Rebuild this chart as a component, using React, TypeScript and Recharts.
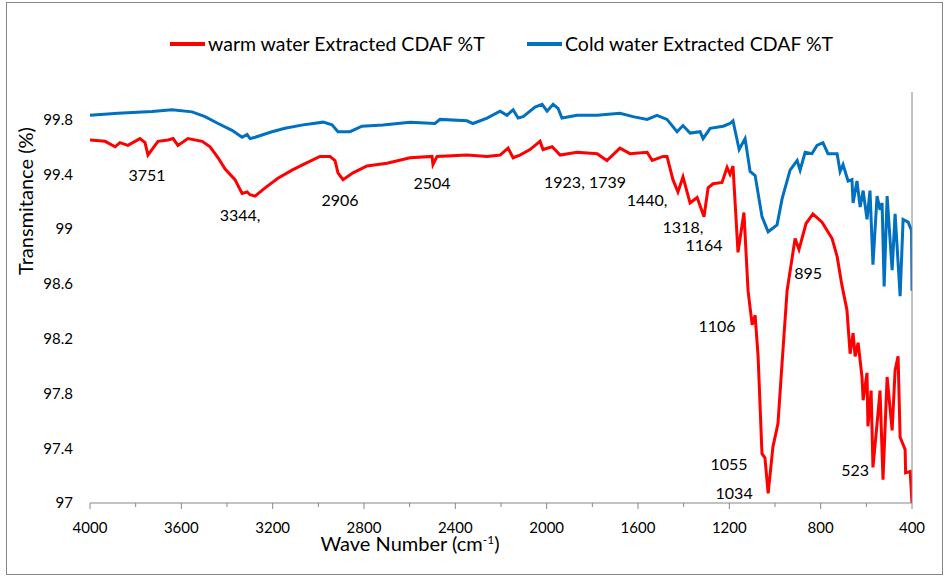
import { LineChart, Line, XAxis, YAxis, Legend, ReferenceDot } from "recharts"

// FTIR spectra, wave number (cm-1) against transmittance (%)
const coldWave = [4000, 3877, 3728, 3641, 3553, 3496, 3439, 3378, 3334, 3312, 3299, 3277, 3203, 3146, 3067, 2979, 2940, 2914, 2861, 2809, 2717, 2598, 2489, 2467, 2349, 2323, 2261, 2204, 2174, 2147, 2125, 2103, 2051, 2020, 1998, 1972, 1950, 1933, 1867, 1779, 1679, 1622, 1560, 1517, 1473, 1429, 1403, 1372, 1328, 1315, 1284, 1227, 1197, 1184, 1157, 1131, 1109, 1087, 1057, 1030, 991, 969, 934, 903, 890, 868, 838, 816, 790, 768, 728, 715, 702, 680, 663, 658, 641, 627, 614, 597, 584, 571, 553, 540, 531, 522, 509, 487, 474, 452, 439, 417, 402, 400]
const coldT = [99.83, 99.845, 99.857, 99.87, 99.855, 99.82, 99.77, 99.72, 99.67, 99.69, 99.66, 99.67, 99.71, 99.735, 99.76, 99.78, 99.76, 99.71, 99.71, 99.75, 99.76, 99.78, 99.77, 99.8, 99.79, 99.77, 99.81, 99.86, 99.83, 99.87, 99.81, 99.82, 99.89, 99.91, 99.86, 99.91, 99.88, 99.81, 99.83, 99.83, 99.845, 99.82, 99.8, 99.83, 99.8, 99.71, 99.755, 99.7, 99.71, 99.66, 99.735, 99.75, 99.77, 99.79, 99.58, 99.66, 99.42, 99.39, 99.09, 98.98, 99.03, 99.22, 99.43, 99.5, 99.43, 99.56, 99.55, 99.61, 99.63, 99.55, 99.55, 99.42, 99.47, 99.35, 99.36, 99.19, 99.35, 99.16, 99.28, 99.07, 99.28, 98.74, 99.24, 99.14, 99.19, 98.58, 99.24, 98.7, 99.11, 98.51, 99.07, 99.05, 98.99, 98.55]

const warmWave = [4000, 3934, 3890, 3869, 3834, 3781, 3759, 3746, 3724, 3702, 3658, 3636, 3615, 3571, 3509, 3474, 3439, 3409, 3365, 3334, 3312, 3299, 3277, 3233, 3177, 3115, 3067, 2993, 2949, 2927, 2914, 2892, 2848, 2787, 2699, 2598, 2502, 2498, 2480, 2349, 2261, 2204, 2169, 2147, 2117, 2073, 2029, 2016, 1976, 1941, 1867, 1779, 1736, 1679, 1635, 1560, 1538, 1490, 1473, 1447, 1425, 1403, 1372, 1341, 1311, 1293, 1271, 1232, 1210, 1197, 1184, 1162, 1136, 1118, 1100, 1087, 1074, 1057, 1044, 1030, 1009, 987, 965, 947, 912, 895, 864, 834, 794, 750, 728, 707, 685, 671, 658, 649, 636, 619, 614, 597, 593, 579, 571, 553, 540, 527, 509, 487, 474, 461, 452, 430, 428, 408, 400]
const warmT = [99.65, 99.64, 99.6, 99.63, 99.61, 99.66, 99.63, 99.54, 99.59, 99.64, 99.65, 99.66, 99.61, 99.66, 99.64, 99.6, 99.52, 99.44, 99.36, 99.26, 99.27, 99.25, 99.24, 99.3, 99.37, 99.43, 99.47, 99.53, 99.53, 99.5, 99.41, 99.36, 99.41, 99.46, 99.48, 99.52, 99.53, 99.47, 99.53, 99.54, 99.53, 99.54, 99.59, 99.52, 99.54, 99.58, 99.64, 99.58, 99.6, 99.54, 99.56, 99.55, 99.5, 99.59, 99.55, 99.56, 99.5, 99.53, 99.53, 99.36, 99.27, 99.38, 99.19, 99.23, 99.09, 99.3, 99.33, 99.34, 99.45, 99.4, 99.46, 98.83, 99.12, 98.55, 98.3, 98.37, 98.07, 97.36, 97.33, 97.07, 97.41, 97.58, 98.12, 98.55, 98.93, 98.85, 99.04, 99.11, 99.05, 98.93, 98.8, 98.59, 98.41, 98.09, 98.24, 98.07, 98.17, 97.92, 97.75, 97.95, 97.56, 97.82, 97.26, 97.58, 97.82, 97.17, 97.92, 97.53, 97.97, 98.07, 97.48, 97.39, 97.22, 97.23, 97.0]

// peak annotations
const peakText = ["3751", "3344,", "2906", "2504", "1923, 1739", "1440,", "1318,", "1164", "895", "1106", "1055", "1034", "523"]
const peakWave = [3750, 3343, 2905, 2502, 1832, 1560, 1403, 1311, 855, 1254, 1201, 1179, 649]
const peakT = [99.39, 99.1, 99.21, 99.33, 99.34, 99.21, 99.01, 98.88, 98.68, 98.29, 97.28, 97.07, 97.24]

const xTicks = [4000, 3800, 3600, 3400, 3200, 3000, 2800, 2600, 2400, 2200, 2000, 1800, 1600, 1400, 1200, 1000, 800, 600, 400]
const yTicks = [97, 97.4, 97.8, 98.2, 98.6, 99, 99.4, 99.8]
const yMinorTicks = [97, 97.2, 97.4, 97.6, 97.8, 98, 98.2, 98.4, 98.6, 98.8, 99, 99.2, 99.4, 99.6, 99.8, 100]

const seriesNames = ["warm water Extracted CDAF %T", "Cold water Extracted CDAF %T"]
const seriesColors = ["#FF0000", "#0070C0"]

const coldData = coldWave.map((w, i) => ({ wave: w, t: coldT[i] }))
const warmData = warmWave.map((w, i) => ({ wave: w, t: warmT[i] }))

const FONT = "Lato, 'Open Sans', sans-serif"
const GREY = "#868686"

function XTick(props: any) {
    const { x, y, payload } = props
    const major = payload.value % 400 === 0
    return (
        <g>
            <line x1={x} x2={x} y1={y} y2={y + (major ? 6 : 4)} stroke={GREY} />
            {major && (
                <text x={x} y={y + 24} textAnchor="middle" dominantBaseline="central" fontSize={15} fontFamily={FONT} fill="#000">
                    {payload.value}
                </text>
            )}
        </g>
    )
}

// legend keeps the series order of the original (warm first)
function LegendBox() {
    const lefts = [170, 527]
    return (
        <div style={{ position: "relative", width: 949, height: 90, fontFamily: FONT }}>
            {seriesNames.map((name, i) => (
                <div key={name}>
                    <div style={{ position: "absolute", left: lefts[i], top: 42, width: 35, height: 4, background: seriesColors[i] }} />
                    <span style={{ position: "absolute", left: lefts[i] + 38, top: 31, fontSize: 19.5, lineHeight: "26px", color: "#000", whiteSpace: "nowrap" }}>
                        {name}
                    </span>
                </div>
            ))}
        </div>
    )
}

export default function App() {
    return (
        <div style={{ position: "absolute", left: 0, top: 0, width: 949, height: 581, background: "#fff" }}>
            <div style={{ position: "absolute", left: 6, top: 2, width: 935, height: 571, border: `1px solid ${GREY}` }} />
            <LineChart width={949} height={581} data={warmData} margin={{ top: 92, right: 27, bottom: 0, left: 0 }}>
                <XAxis
                    dataKey="wave"
                    type="number"
                    domain={[400, 4000]}
                    reversed
                    ticks={xTicks}
                    interval={0}
                    height={78}
                    tickSize={0}
                    tickMargin={0}
                    tickLine={false}
                    stroke={GREY}
                    tick={<XTick />}
                    allowDataOverflow
                    label={() => (
                        <text x={410} y={551} textAnchor="middle" fontSize={20} fontFamily={FONT} fill="#000">
                            Wave Number (cm
                            <tspan dy={-7} fontSize={12}>-1</tspan>
                            <tspan dy={7}>)</tspan>
                        </text>
                    )}
                />
                <YAxis
                    yAxisId="l"
                    type="number"
                    domain={[97, 100]}
                    ticks={yTicks}
                    interval={0}
                    width={90}
                    axisLine={false}
                    tickLine={false}
                    tickSize={0}
                    tickMargin={17}
                    allowDataOverflow
                    tick={{ fontSize: 15, fontFamily: FONT, fill: "#000" }}
                    label={() => (
                        <text x={25} y={201} transform="rotate(-90 25 201)" textAnchor="middle" dominantBaseline="central" fontSize={20} fontFamily={FONT} fill="#000">
                            Transmitance (%)
                        </text>
                    )}
                />
                <YAxis
                    yAxisId="r"
                    orientation="right"
                    type="number"
                    domain={[97, 100]}
                    ticks={yMinorTicks}
                    interval={0}
                    width={10}
                    tickSize={4}
                    tick={false}
                    stroke={GREY}
                    allowDataOverflow
                />
                <Legend verticalAlign="middle" align="center" layout="horizontal" wrapperStyle={{ top: 0, left: 0, width: 949, height: 90 }} content={<LegendBox />} />
                <Line yAxisId="l" data={warmData} dataKey="t" name={seriesNames[0]} stroke={seriesColors[0]} strokeWidth={3} dot={false} isAnimationActive={false} />
                <Line yAxisId="l" data={coldData} dataKey="t" name={seriesNames[1]} stroke={seriesColors[1]} strokeWidth={3} dot={false} isAnimationActive={false} />
                {peakText.map((txt, i) => (
                    <ReferenceDot
                        key={txt}
                        yAxisId="l"
                        x={peakWave[i]}
                        y={peakT[i]}
                        r={0}
                        fill="none"
                        stroke="none"
                        label={{ value: txt, position: "center", fontSize: 16, fontFamily: FONT, fill: "#000" }}
                    />
                ))}
            </LineChart>
        </div>
    )
}
